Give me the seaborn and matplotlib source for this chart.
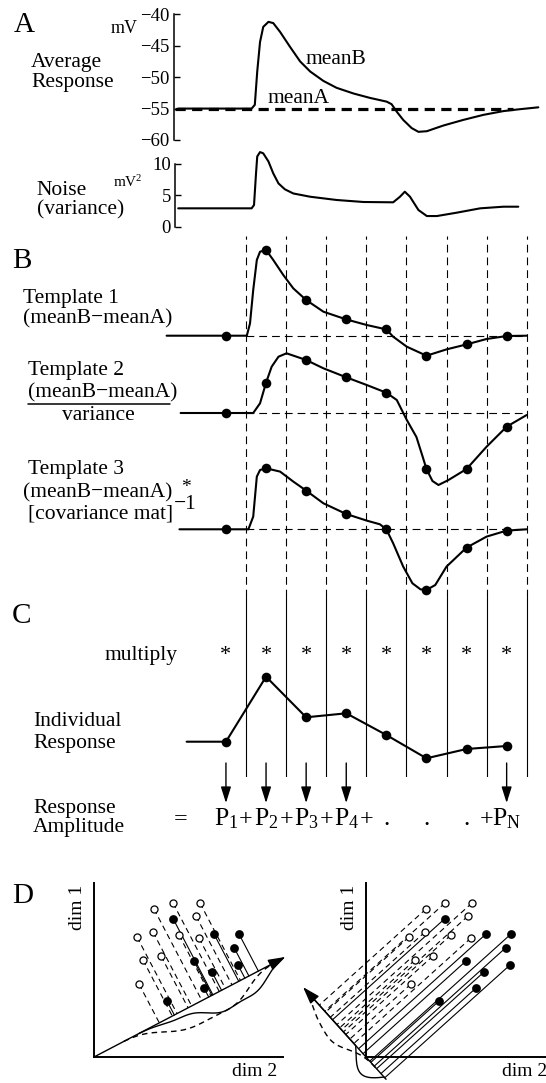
import numpy as np
import matplotlib
matplotlib.use("Agg")
import matplotlib.pyplot as plt
from matplotlib.lines import Line2D
import seaborn as sns

# ---------------------------------------------------------------- data
# time is measured in sample bins: bin k spans [k, k+1]
bin_centres = [0.5, 1.5, 2.5, 3.5, 4.5, 5.5, 6.5, 7.5]
bin_edges = [1, 2, 3, 4, 5, 6, 7, 8]

# A  average membrane responses (mV)
avg_t = [-0.69, 1.14, 1.22, 1.28, 1.35, 1.43, 1.56, 1.68, 1.85, 2.10, 2.35,
         2.60, 2.93, 3.26, 3.68, 4.09, 4.51, 4.63, 4.76, 4.92, 5.13, 5.30,
         5.51, 5.92, 6.42, 6.92, 7.42, 7.83, 8.29]
meanB_mv = [-55.0, -55.0, -54.4, -49.1, -44.4, -42.0, -41.2, -41.4, -42.8,
            -45.2, -47.5, -49.1, -50.6, -51.7, -52.6, -53.3, -53.9, -54.3,
            -55.5, -56.8, -58.1, -58.7, -58.6, -57.7, -56.8, -56.0, -55.4,
            -55.1, -54.8]
meanA_t = [-0.76, 7.67]
meanA_mv = [-55.0, -55.0]
mv_ticks = [-40, -45, -50, -55, -60]

# A  noise (variance, mV^2)
noise_t = [-0.69, 1.14, 1.20, 1.25, 1.28, 1.35, 1.43, 1.56, 1.68, 1.81, 1.97,
           2.18, 2.60, 3.26, 3.93, 4.67, 4.84, 4.96, 5.09, 5.30, 5.51, 5.76,
           6.25, 6.84, 7.42, 7.79]
noise_var = [2.93, 2.93, 3.46, 8.5, 11.2, 11.9, 11.7, 10.4, 8.5, 6.9, 5.96,
             5.3, 4.78, 4.26, 3.94, 3.89, 4.78, 5.58, 4.78, 2.66, 1.7, 1.7,
             2.23, 2.93, 3.19, 3.19]
var_ticks = [0, 5, 10]

# B  templates (arbitrary units)
tpl1_t = [-0.98, 0.5, 1.02, 1.10, 1.18, 1.27, 1.35, 1.5, 1.68, 1.93, 2.18,
          2.5, 2.93, 3.5, 4.01, 4.5, 4.67, 5.01, 5.5, 6.0, 6.5, 7.0, 7.5, 8.0]
tpl1_v = [0, 0, 0, 1.23, 4.57, 7.57, 8.4, 8.57, 7.57, 6.07, 4.73,
          3.57, 2.4, 1.63, 1.07, 0.63, -0.1, -1.1, -2.0, -1.37, -0.87, -0.33,
          -0.03, 0]
tpl1_pts = [0, 8.57, 3.57, 1.63, 0.63, -2.0, -0.87, -0.03]

tpl2_t = [-0.63, 0.5, 1.18, 1.35, 1.5, 1.64, 1.81, 2.01, 2.26, 2.5, 2.93,
          3.5, 4.01, 4.5, 4.76, 5.01, 5.25, 5.40, 5.5, 5.65, 5.80, 6.05,
          6.5, 7.0, 7.5, 8.0]
tpl2_v = [0, 0, 0, 0.97, 3.03, 4.63, 5.63, 5.97, 5.63, 5.3, 4.47,
          3.57, 2.8, 2.03, 1.3, -0.7, -2.4, -4.3, -5.6, -6.8, -7.2, -6.7,
          -5.6, -3.37, -1.37, -0.2]
tpl2_pts = [0, 3.03, 5.3, 3.57, 2.03, -5.6, -5.6, -1.37]

tpl3_t = [-0.66, 0.5, 1.06, 1.18, 1.27, 1.35, 1.5, 1.85, 2.18, 2.5, 2.93,
          3.5, 4.01, 4.34, 4.5, 4.67, 4.92, 5.15, 5.35, 5.5, 5.72, 6.0,
          6.5, 7.0, 7.5, 8.0]
tpl3_v = [0, 0, 0, 1.27, 5.27, 5.93, 6.1, 5.77, 4.77, 3.87, 2.6,
          1.53, 0.87, 0.5, 0, -1.4, -3.73, -5.4, -6.0, -6.07, -5.57, -3.73,
          -1.83, -0.73, -0.13, 0]
tpl3_pts = [0, 6.1, 3.87, 1.53, 0, -6.07, -1.83, -0.13]

# C  single-trial response sampled in each bin
resp_t = [-0.48] + bin_centres
resp_v = [0, 0, 6.5, 2.44, 2.84, 0.67, -1.66, -0.73, -0.43]
term_bins = [0.5, 1.5, 2.5, 3.5, 7.5]
term_labels = [r"$\mathregular{P_1}$", r"$\mathregular{P_2}$",
               r"$\mathregular{P_3}$", r"$\mathregular{P_4}$",
               r"$\mathregular{P_N}$"]
plus_bins = [1, 2, 3, 4, 7]
ellipsis_bins = [4.5, 5.5, 6.5]

# D  two classes of trials in a 2-d response space
open_dim2 = [6.0, 7.9, 10.6, 10.2, 4.3, 5.9, 8.5, 10.5, 4.9, 6.7, 4.5]
open_dim1 = [14.8, 15.4, 15.4, 14.1, 12.0, 12.5, 12.2, 11.9, 9.7, 10.1, 7.3]
filled_dim2 = [7.9, 12.0, 14.5, 14.0, 10.0, 14.4, 11.8, 11.0, 7.3]
filled_dim1 = [13.85, 12.3, 12.3, 10.95, 9.6, 9.2, 8.5, 6.9, 5.6]
proj_angle_left = 27.6     # degrees, direction of the projection axis
proj_angle_right = 132.0

# ---------------------------------------------------------------- style
sns.set_theme(style="white", rc={
    "axes.facecolor": "none", "figure.facecolor": "white",
    "axes.edgecolor": "black", "text.color": "black",
    "xtick.color": "black", "ytick.color": "black",
    "axes.labelcolor": "black"})
plt.rcParams["font.family"] = ["Liberation Serif", "DejaVu Serif"]
plt.rcParams["axes.unicode_minus"] = True

W, H = 546, 1083
fig = plt.figure(figsize=(W / 100, H / 100), dpi=100)

T0, TSTEP = 205.9, 40.1      # pixel column of t = 0 and width of one bin
LBL = 15.5                   # label font size
LW = 1.5


def box(x0, y0, x1, y1):
    return fig.add_axes([x0 / W, 1 - y1 / H, (x1 - x0) / W, (y1 - y0) / H])


def tlim(x0, x1):
    return ((x0 - T0) / TSTEP, (x1 - T0) / TSTEP)


def ftext(x, y, s, **kw):
    kw.setdefault("fontsize", LBL)
    kw.setdefault("va", "baseline")
    return fig.text(x / W, 1 - y / H, s, **kw)


def bare(ax):
    for sp in ax.spines.values():
        sp.set_visible(False)
    ax.set_xticks([])
    ax.set_yticks([])


# ---------------------------------------------------------------- panel A
axA = box(174, 14.3, 546, 140)
sns.lineplot(x=avg_t, y=meanB_mv, ax=axA, color="black", linewidth=LW)
axA.plot(meanA_t, meanA_mv, color="black", linewidth=2.3, dashes=(3.2, 2.0))
axA.set_xlim(tlim(174, 546))
axA.set_ylim(-60, -40)
for k in ("top", "right", "bottom"):
    axA.spines[k].set_visible(False)
axA.spines["left"].set_linewidth(1.1)
axA.set_xticks([])
axA.set_yticks(mv_ticks)
axA.tick_params(axis="y", direction="in", length=4, width=1,
                labelsize=13.5, pad=3, left=True)

axN = box(175, 148, 546, 226.7)
sns.lineplot(x=noise_t, y=noise_var, ax=axN, color="black", linewidth=LW)
axN.set_xlim(tlim(175, 546))
axN.set_ylim(0, (226.7 - 148) / 6.27)
for k in ("top", "right", "bottom"):
    axN.spines[k].set_visible(False)
axN.spines["left"].set_bounds(0, 10)
axN.spines["left"].set_linewidth(1.1)
axN.set_xticks([])
axN.set_yticks(var_ticks)
axN.tick_params(axis="y", direction="in", length=4, width=1,
                labelsize=13.5, pad=3, left=True)

ftext(14, 32, "A", fontsize=21)
ftext(111, 33.3, "mV", fontsize=13)
ftext(31, 66.7, "Average")
ftext(31, 87.3, "Response")
ftext(305, 64, "meanB")
ftext(268, 103, "meanA")
ftext(36.5, 195, "Noise")
ftext(36.5, 214, "(variance)")
ftext(113, 186.7, r"mV$\mathregular{^2}$", fontsize=11)

# ------------------------------------------------- bin boundaries (B and C)
axV = box(150, 236, 546, 777)
axV.set_xlim(tlim(150, 546))
axV.set_ylim(0, 1)
bare(axV)
split = (777 - 597) / (777 - 236)
for e in bin_edges:
    axV.axvline(e, ymin=split, ymax=1, color="black", linewidth=0.8,
                dashes=(7, 4.5))
    axV.axvline(e, ymin=0, ymax=split, color="black", linewidth=0.8)

# ---------------------------------------------------------------- panel B
templates = [
    (tpl1_t, tpl1_v, tpl1_pts, 335.7, 240, 365),
    (tpl2_t, tpl2_v, tpl2_pts, 413.0, 340, 500),
    (tpl3_t, tpl3_v, tpl3_pts, 529.3, 455, 600),
]
for tt, vv, pts, base, top, bot in templates:
    ax = box(150, top, 546, bot)
    ax.hlines(0, bin_edges[0], bin_edges[-1], color="black", linewidth=0.8,
              linestyles=(0, (7, 4.5)))
    sns.lineplot(x=tt, y=vv, ax=ax, color="black", linewidth=LW)
    sns.scatterplot(x=bin_centres, y=pts, ax=ax, color="black", s=48,
                    edgecolor="black", linewidth=0, zorder=4)
    ax.set_xlim(tlim(150, 546))
    ax.set_ylim((base - bot) / 10, (base - top) / 10)
    bare(ax)

ftext(12, 268.3, "B", fontsize=21)
ftext(22.6, 303.3, "Template 1")
ftext(22.6, 323.5, "(meanB\u2212meanA)")
ftext(28, 375.5, "Template 2")
ftext(28, 397.7, "(meanB\u2212meanA)")
fig.add_artist(Line2D([28 / W, 170 / W], [1 - 403.5 / H] * 2,
                      color="black", linewidth=1.1))
ftext(98.5, 420, "variance", ha="center")
ftext(28, 474.3, "Template 3")
ftext(22.6, 497.3, "(meanB\u2212meanA)")
ftext(186.3, 492, "*", ha="center", fontsize=14)
ftext(27.9, 518.3, "[covariance mat]")
ftext(173.5, 508.5, "\u22121")

# ---------------------------------------------------------------- panel C
C_BASE, C_TOP, C_BOT = 741.7, 640, 840
axC = box(150, C_TOP, 546, C_BOT)
sns.lineplot(x=resp_t, y=resp_v, ax=axC, color="black", linewidth=LW)
sns.scatterplot(x=bin_centres, y=resp_v[1:], ax=axC, color="black", s=48,
                edgecolor="black", linewidth=0, zorder=4)
axC.set_xlim(tlim(150, 546))
axC.set_ylim((C_BASE - C_BOT) / 10, (C_BASE - C_TOP) / 10)
bare(axC)


def cy(y):
    return (C_BASE - y) / 10


for t in bin_centres:
    axC.text(t, cy(655), "*", ha="center", va="center", fontsize=16)
for t, lab in zip(term_bins, term_labels):
    axC.annotate("", xy=(t, cy(803)), xytext=(t, cy(763)),
                 arrowprops=dict(arrowstyle="-|>,head_length=0.7,head_width=0.22",
                                 color="black", lw=1.0, mutation_scale=14,
                                 shrinkA=0, shrinkB=0))
    axC.text(t, cy(825), lab, ha="center", va="baseline", fontsize=18.5)
for t in plus_bins:
    axC.text(t, cy(825), "+", ha="center", va="baseline", fontsize=17.5)
for t in ellipsis_bins:
    axC.text(t, cy(825), ".", ha="center", va="baseline", fontsize=18)
axC.text(tlim(181, 181)[0], cy(825), "=", ha="center", va="baseline",
         fontsize=17.5)

ftext(12, 623.3, "C", fontsize=21)
ftext(104.5, 660, "multiply")
ftext(33, 726, "Individual")
ftext(33, 747.7, "Response")
ftext(33, 813.3, "Response")
ftext(33, 831.7, "Amplitude")

# ---------------------------------------------------------------- panel D
pts_open = np.column_stack([open_dim2, open_dim1])
pts_fill = np.column_stack([filled_dim2, filled_dim1])


def projection_panel(ax, angle, t_span, bump, bw):
    u = np.array([np.cos(np.radians(angle)), np.sin(np.radians(angle))])
    n = np.array([-u[1], u[0]])
    if (np.vstack([pts_open, pts_fill]) @ n).mean() < 0:
        n = -n
    # each trial dropped onto the projection axis
    for pts, style in ((pts_open, (0, (5, 3.5))), (pts_fill, "-")):
        for p in pts:
            f = (p @ u) * u
            ax.plot([p[0], f[0]], [p[1], f[1]], color="black", lw=0.8,
                    linestyle=style, clip_on=False, zorder=2)
    # projection axis
    ax.annotate("", xy=t_span[1] * u, xytext=t_span[0] * u,
                arrowprops=dict(arrowstyle="-|>,head_length=0.75,head_width=0.25",
                                color="black", lw=1.0, mutation_scale=14,
                                shrinkA=0, shrinkB=0), annotation_clip=False)
    # distribution of the projected values of each class, drawn on the far
    # side of the axis and brought back to the axis at both ends
    for pts, style in ((pts_open, (0, (4, 3))), (pts_fill, "-")):
        tt = pts @ u
        s = np.linspace(max(tt.min() - 2.5 * bw, t_span[0] + 0.3),
                        min(tt.max() + 2.5 * bw, t_span[1] - 0.3), 200)
        dens = np.exp(-0.5 * ((s[:, None] - tt[None, :]) / bw) ** 2).sum(1)
        dens = dens - np.linspace(dens[0], dens[-1], dens.size)
        dens = np.clip(dens, 0, None)
        dens = dens / dens.max() * bump
        curve = s[:, None] * u - dens[:, None] * n
        ax.plot(curve[:, 0], curve[:, 1], color="black", lw=1.0,
                linestyle=style, clip_on=False, zorder=2)
    sns.scatterplot(x=open_dim2, y=open_dim1, ax=ax, s=26, facecolor="white",
                    edgecolor="black", linewidth=0.9, zorder=5)
    sns.scatterplot(x=filled_dim2, y=filled_dim1, ax=ax, s=40, color="black",
                    edgecolor="black", linewidth=0, zorder=5)


def make_dim_axes(x0, x1, ox, axis_end):
    ax = box(x0, 870, x1, 1083)
    ax.spines["left"].set_position(("data", 0))
    ax.spines["bottom"].set_position(("data", 0))
    ax.spines["left"].set_bounds(0, (1057 - 883) / 10)
    ax.spines["bottom"].set_bounds(0, (axis_end - ox) / 10)
    for k in ("top", "right"):
        ax.spines[k].set_visible(False)
    for k in ("left", "bottom"):
        ax.spines[k].set_linewidth(1.4)
    return ax


def finish_dim_axes(ax, x0, x1, ox):
    ax.set_xlim((x0 - ox) / 10, (x1 - ox) / 10)
    ax.set_ylim((1057 - 1083) / 10, (1057 - 870) / 10)
    ax.set_xticks([])
    ax.set_yticks([])
    ax.set_xlabel("")
    ax.set_ylabel("")


axDL = make_dim_axes(60, 290, 94, 283)
projection_panel(axDL, proj_angle_left, (0.0, 21.6), 2.0, 1.6)
finish_dim_axes(axDL, 60, 290, 94)

axDR = make_dim_axes(290, 546, 366, 546)
projection_panel(axDR, proj_angle_right, (-3.0, 9.4), 1.5, 1.3)
finish_dim_axes(axDR, 290, 546, 366)

ftext(11.7, 903.3, "D", fontsize=21)
ftext(77, 907, "dim 1", fontsize=14, rotation=90, ha="center", va="center")
ftext(232, 1076, "dim 2", fontsize=14)
ftext(349, 907, "dim 1", fontsize=14, rotation=90, ha="center", va="center")
ftext(502, 1076, "dim 2", fontsize=14)

fig.savefig("out.png", dpi=100)
